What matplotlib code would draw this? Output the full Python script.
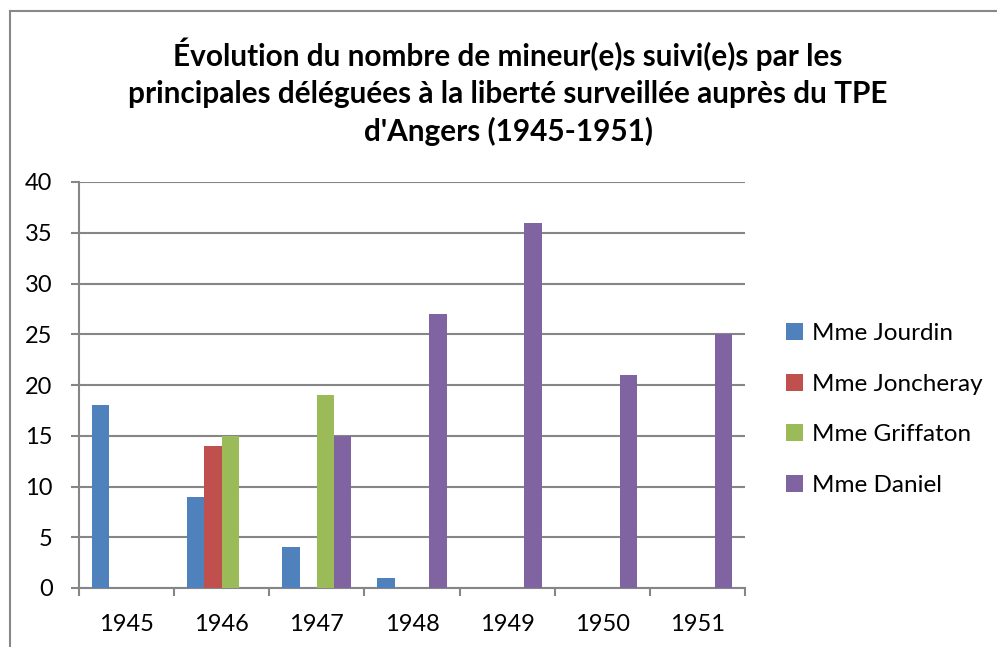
import matplotlib.pyplot as plt
from matplotlib.lines import Line2D
import numpy as np

plt.rcParams['font.family'] = ['Lato', 'DejaVu Sans']

years = ["1945", "1946", "1947", "1948", "1949", "1950", "1951"]

jourdin = [18, 9, 4, 1, 0, 0, 0]
joncheray = [0, 14, 0, 0, 0, 0, 0]
griffaton = [0, 15, 19, 0, 0, 0, 0]
daniel = [0, 0, 15, 27, 36, 21, 25]

noms = ["Mme Jourdin", "Mme Joncheray", "Mme Griffaton", "Mme Daniel"]
couleurs = ["#4F81BD", "#C0504D", "#9BBB59", "#8064A2"]

fig = plt.figure(figsize=(9.97, 6.47), dpi=100)
ax = fig.add_axes([79 / 997, 1 - 588 / 647, (745 - 79) / 997, (588 - 182) / 647])

x = np.arange(len(years))
w = 1 / 5.5
series = [jourdin, joncheray, griffaton, daniel]
for i, (vals, nom, c) in enumerate(zip(series, noms, couleurs)):
    ax.bar(x + (i - 1.5) * w, vals, width=w, color=c, label=nom, zorder=3)

ax.set_xlim(-0.5, len(years) - 0.5)
ax.set_ylim(0, 40)
ax.set_yticks(range(0, 41, 5))
ax.yaxis.grid(True, color="#868686", linewidth=1.5, zorder=0)

ax.set_xticks(x)
ax.set_xticklabels(years)
ax.set_xticks(np.arange(-0.5, len(years)), minor=True)
ax.tick_params(axis="x", which="major", length=0, pad=19, labelsize=17)
ax.tick_params(axis="x", which="minor", length=6, width=1.5, color="#868686")
ax.tick_params(axis="y", length=6, width=1.5, color="#868686", pad=13, labelsize=17)

for s in ["top", "right"]:
    ax.spines[s].set_visible(False)
for s in ["left", "bottom"]:
    ax.spines[s].set_color("#868686")
    ax.spines[s].set_linewidth(1.5)

fig.text(508 / 997, 1 - 92 / 647,
         "Évolution du nombre de mineur(e)s suivi(e)s par les\n"
         "principales déléguées à la liberté surveillée auprès du TPE\n"
         "d'Angers (1945-1951)",
         ha="center", va="center", fontsize=21.4, fontweight="bold",
         linespacing=1.38)

ax.legend(loc="center left", bbox_to_anchor=(1.062, 0.44), frameon=False,
          fontsize=17.5, handlelength=0.7, handleheight=0.7,
          labelspacing=1.22, handletextpad=0.35, borderpad=0, borderaxespad=0)

# cadre du graphique
fig.add_artist(Line2D([10 / 997, 1], [1 - 11 / 647] * 2, color="#888888", linewidth=1.5))
fig.add_artist(Line2D([10 / 997] * 2, [0, 1 - 11 / 647], color="#888888", linewidth=1.5))

fig.savefig("out.png", dpi=100)
